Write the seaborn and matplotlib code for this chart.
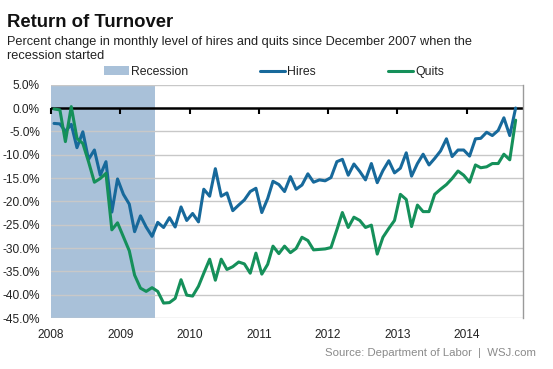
import numpy as np
import pandas as pd
import matplotlib
matplotlib.use("Agg")
import matplotlib.pyplot as plt
from matplotlib.patches import Patch
from matplotlib.lines import Line2D
import seaborn as sns

# ---- data (percent change since Dec 2007), monthly from Jan 2008 ----
hires = [-3.3, -3.4, -5.0, -3.5, -8.5, -5.1, -11.0, -9.0, -14.4, -11.5,
         -22.3, -15.2, -18.5, -20.6, -26.5, -23.1, -25.5, -27.5, -24.5, -25.6,
         -23.5, -25.5, -21.2, -24.1, -22.6, -24.4, -17.4, -18.9, -13.0, -18.9,
         -18.2, -22.0, -20.8, -19.7, -17.9, -17.2, -22.4, -19.4, -15.7, -16.4,
         -17.9, -14.7, -17.4, -16.5, -14.1, -15.9, -15.4, -15.6, -14.9, -11.5,
         -11.0, -14.4, -12.0, -13.6, -15.4, -11.9, -16.0, -13.4, -11.3, -13.9,
         -12.9, -9.6, -14.6, -11.9, -9.9, -12.2, -10.8, -9.2, -6.6, -10.4,
         -9.0, -9.0, -10.3, -6.6, -6.5, -5.2, -5.9, -4.8, -2.1, -5.9,
         0.0]
quits = [-0.2, -0.4, -7.2, 0.3, -6.5, -7.6, -11.5, -15.9, -15.1, -14.0,
         -26.1, -24.6, -27.6, -30.6, -35.8, -38.6, -39.3, -38.5, -39.3, -41.8,
         -41.7, -40.8, -36.8, -40.1, -40.3, -38.2, -35.4, -32.4, -36.9, -32.4,
         -34.6, -34.0, -33.0, -33.4, -35.4, -31.1, -35.6, -33.5, -29.6, -31.2,
         -29.6, -31.0, -30.1, -27.7, -28.4, -30.4, -30.3, -30.2, -29.9, -26.1,
         -22.4, -25.6, -23.4, -24.1, -25.6, -25.1, -31.3, -27.7, -25.8, -24.1,
         -18.5, -19.6, -25.4, -20.8, -22.2, -22.2, -18.5, -17.4, -16.4, -15.1,
         -13.5, -14.4, -15.9, -12.2, -12.8, -12.6, -11.9, -11.9, -9.9, -11.1,
         -2.6]
years = ["2008", "2009", "2010", "2011", "2012", "2013", "2014"]
y_ticks = [5, 0, -5, -10, -15, -20, -25, -30, -35, -40, -45]
recession = ("2007-12-01", "2009-07-05")

dates = pd.date_range("2008-01-01", periods=len(hires), freq="MS") + pd.Timedelta(days=16)
df = pd.DataFrame({"date": dates, "Hires": hires, "Quits": quits})
long = df.melt(id_vars="date", var_name="series", value_name="value")

BLUE = "#17699b"
GREEN = "#15905a"
SHADE = "#a9c1d9"
GRID = "#c8c8c8"

sns.set_theme(style="white")
plt.rcParams["font.family"] = ["Liberation Sans", "DejaVu Sans"]

fig = plt.figure(figsize=(5.53, 3.69), dpi=100)
ax = fig.add_axes([0.0922, 0.1382, 0.8536, 0.6323])

ax.axvspan(pd.Timestamp(recession[0]), pd.Timestamp(recession[1]),
           color=SHADE, lw=0, zorder=0)

for v in y_ticks:
    if v != 0:
        ax.axhline(v, color=GRID, lw=1.0, zorder=1)
ax.axhline(0, color="black", lw=1.8, zorder=2)

sns.lineplot(data=long, x="date", y="value", hue="series",
             palette={"Hires": BLUE, "Quits": GREEN}, lw=2.2,
             legend=False, ax=ax, zorder=3)

ax.set_xlim(pd.Timestamp("2008-01-01"), pd.Timestamp("2014-10-26"))
ax.set_ylim(-45, 5)
ax.set_yticks(y_ticks)
ax.set_yticklabels([f"{v:.1f}%" for v in y_ticks])
ax.set_xticks([pd.Timestamp(f"{y}-01-01") for y in years])
ax.set_xticklabels(years)
ax.tick_params(axis="both", length=0, labelsize=8.6, colors="#222222")
ax.tick_params(axis="x", pad=8)
ax.tick_params(axis="y", pad=8)
ax.set_xlabel("")
ax.set_ylabel("")
for s in ["left", "top", "bottom"]:
    ax.spines[s].set_visible(False)
ax.spines["right"].set_color("#9a9a9a")
ax.spines["right"].set_linewidth(1.0)

# year ticks on the zero line
sec = ax.secondary_xaxis(0.9)
sec.set_xticks([pd.Timestamp(f"{y}-01-01") for y in years])
sec.set_xticklabels([])
for s in sec.spines.values():
    s.set_visible(False)
sec.tick_params(axis="x", direction="in", length=4, width=1.5, color="black")

# legend
handles = [Patch(facecolor=SHADE, edgecolor="none"),
           Line2D([], [], color=BLUE, lw=2.2),
           Line2D([], [], color=GREEN, lw=2.2)]
leg = fig.legend(handles, ["Recession", "Hires", "Quits"], loc="center",
                 bbox_to_anchor=(0.4955, 0.805), ncol=3, frameon=False,
                 fontsize=8.8, handlelength=2.05, handletextpad=0.15,
                 columnspacing=5.9)
for t in leg.get_texts():
    t.set_color("#222222")

fig.text(0.013, 0.927, "Return of Turnover", fontsize=13.3, fontweight="bold",
         color="#111111", va="baseline")
fig.text(0.013, 0.878, "Percent change in monthly level of hires and quits since December 2007 when the",
         fontsize=9.2, color="#222222", va="baseline")
fig.text(0.013, 0.840, "recession started", fontsize=9.2, color="#222222", va="baseline")
fig.text(0.97, 0.035, "Source: Department of Labor  |  WSJ.com", fontsize=8.2,
         color="#8a8a8a", ha="right", va="baseline")

fig.savefig("out.png", dpi=100, facecolor="white")
